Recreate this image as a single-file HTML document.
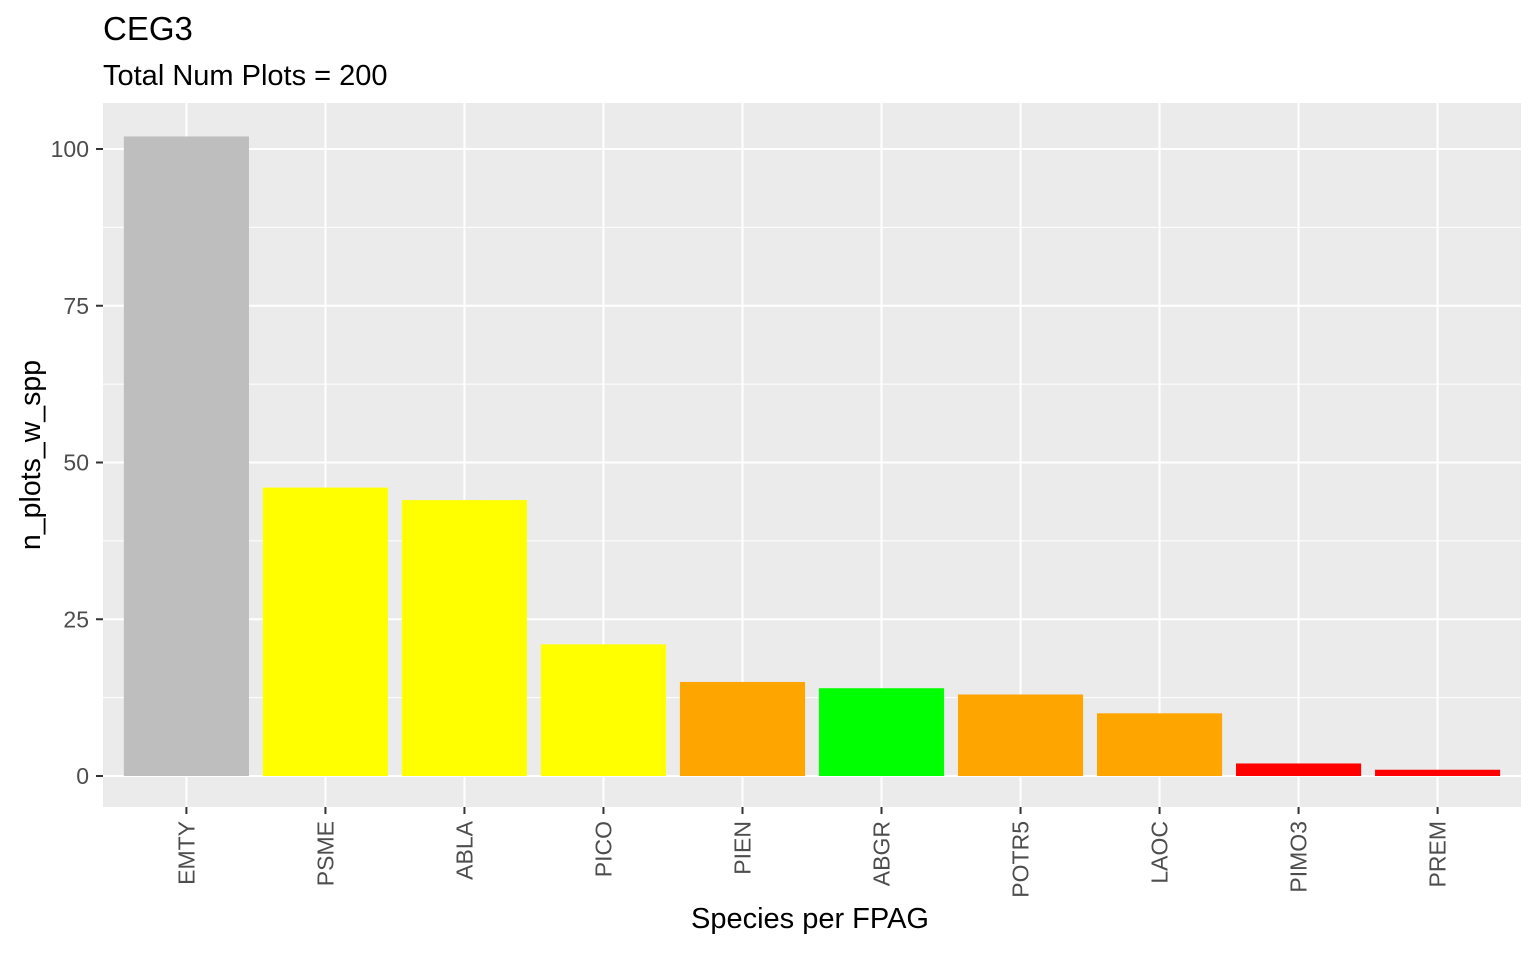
<!DOCTYPE html>
<html><head><meta charset="utf-8"><style>
body{margin:0;background:#fff;}
svg text{font-family:"Liberation Sans",Arial,sans-serif;}
</style></head><body>
<svg id="chart" width="1536" height="949" xmlns="http://www.w3.org/2000/svg">
<text x="103" y="40" font-size="33" fill="#000">CEG3</text>
<text x="103" y="85" font-size="29" fill="#000">Total Num Plots = 200</text>
<rect x="103" y="103" width="1418" height="704" fill="#ebebeb"/>
<g id="grid"></g><g id="bars"></g><g id="axes"></g>
<text x="810" y="928" font-size="29" text-anchor="middle" fill="#000">Species per FPAG</text>
<text transform="translate(40,455) rotate(-90)" font-size="28.5" text-anchor="middle" fill="#000">n_plots_w_spp</text>
</svg>
<script>
const categories=["EMTY","PSME","ABLA","PICO","PIEN","ABGR","POTR5","LAOC","PIMO3","PREM"];
const values=[102,46,44,21,15,14,13,10,2,1];
const colors=["#bebebe","#ffff00","#ffff00","#ffff00","#ffa500","#00ff00","#ffa500","#ffa500","#ff0000","#ff0000"];
const yTicks=[0,25,50,75,100];
const ns="http://www.w3.org/2000/svg";
const px0=103,pw=1418,y0=776,yScale=6.27;
const step=pw/(categories.length+0.2);
const xc=i=>px0+step*(0.6+i);
const ys=v=>y0-v*yScale;
function mk(t,a,p){const e=document.createElementNS(ns,t);for(const k in a)e.setAttribute(k,a[k]);p.appendChild(e);return e;}
const grid=document.getElementById('grid'),bars=document.getElementById('bars'),axes=document.getElementById('axes');
for(let i=0;i<yTicks.length-1;i++){const m=(yTicks[i]+yTicks[i+1])/2;
 const l=mk('line',{x1:px0,x2:px0+pw,y1:ys(m),y2:ys(m),stroke:'#fff','stroke-width':1},grid);
 
 }
yTicks.forEach(v=>{
 const l=mk('line',{x1:px0,x2:px0+pw,y1:ys(v),y2:ys(v),stroke:'#fff','stroke-width':2},grid);
 
 
 mk('line',{x1:96,x2:103,y1:ys(v),y2:ys(v),stroke:'#333','stroke-width':2},axes);
 const t=mk('text',{x:89,y:ys(v)+8,'font-size':23,'text-anchor':'end',fill:'#4d4d4d'},axes);t.textContent=v;
 
 
});
categories.forEach((c,i)=>{
 const x=xc(i);
 const g=mk('line',{x1:x,x2:x,y1:103,y2:807,stroke:'#fff','stroke-width':2},grid);
 
 
 const bw=step*0.9;
 const r=mk('rect',{x:x-bw/2,y:ys(values[i]),width:bw,height:values[i]*yScale,fill:colors[i]},bars);
 
 
 mk('line',{x1:x,x2:x,y1:807,y2:814,stroke:'#333','stroke-width':2},axes);
 const t=mk('text',{transform:`translate(${x+8},821) rotate(-90)`,'font-size':23,'text-anchor':'end',fill:'#4d4d4d'},axes);t.textContent=c;
 
 
});
</script>
</body></html>
